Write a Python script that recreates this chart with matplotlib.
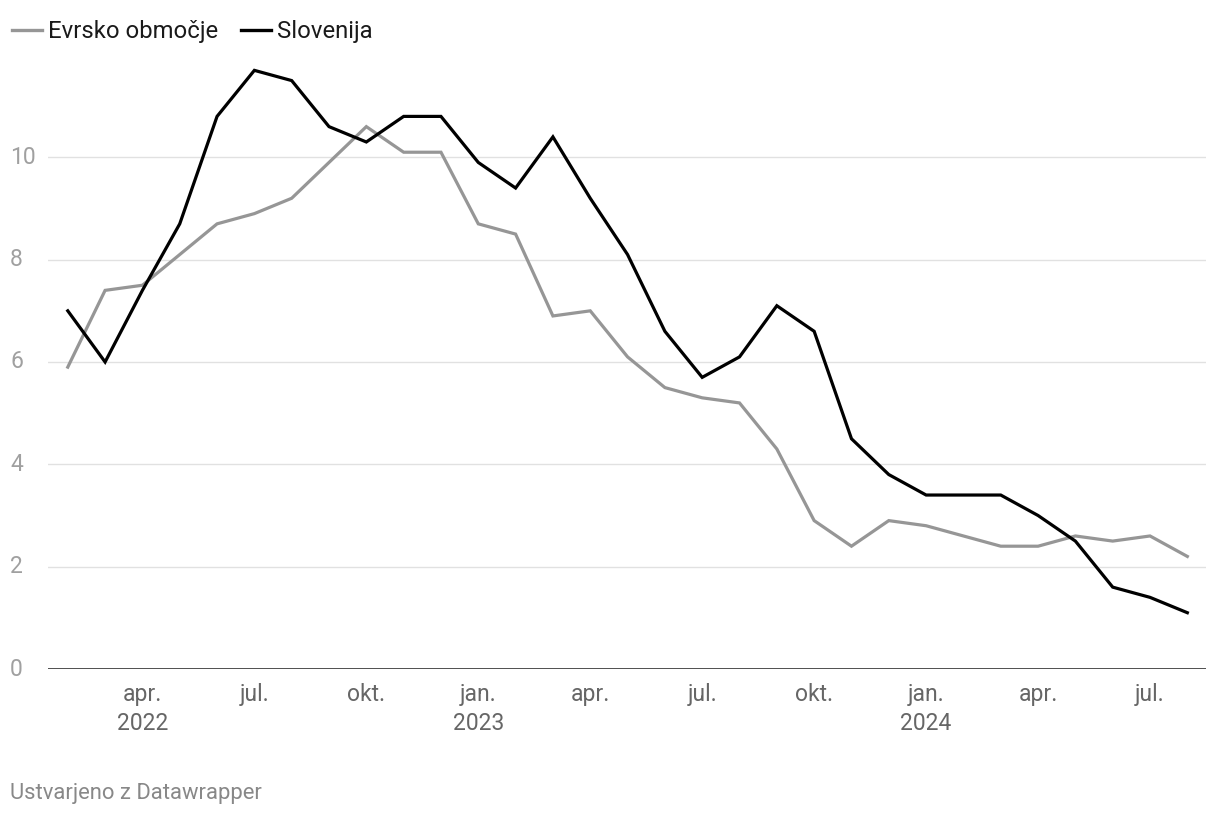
import matplotlib.pyplot as plt

plt.rcParams['font.family'] = ['Roboto', 'DejaVu Sans']

# monthly inflation, Feb 2022 - Aug 2024
months = list(range(31))
evrsko = [5.9, 7.4, 7.5, 8.1, 8.7, 8.9, 9.2, 9.9, 10.6, 10.1, 10.1,
          8.7, 8.5, 6.9, 7.0, 6.1, 5.5, 5.3, 5.2, 4.3, 2.9, 2.4, 2.9,
          2.8, 2.6, 2.4, 2.4, 2.6, 2.5, 2.6, 2.2]
slovenija = [7.0, 6.0, 7.4, 8.7, 10.8, 11.7, 11.5, 10.6, 10.3, 10.8, 10.8,
             9.9, 9.4, 10.4, 9.2, 8.1, 6.6, 5.7, 6.1, 7.1, 6.6, 4.5, 3.8,
             3.4, 3.4, 3.4, 3.0, 2.5, 1.6, 1.4, 1.1]

tick_pos = [2, 5, 8, 11, 14, 17, 20, 23, 26, 29]
tick_labels = ['apr.\n2022', 'jul.', 'okt.', 'jan.\n2023', 'apr.', 'jul.',
               'okt.', 'jan.\n2024', 'apr.', 'jul.']
y_ticks = [0, 2, 4, 6, 8, 10]

fig = plt.figure(figsize=(12.2, 8.16), dpi=100)
ax = fig.add_axes([48 / 1220, 147 / 816, (1206 - 48) / 1220, (669 - 55) / 816])

ax.plot(months, evrsko, color='#969696', lw=2.3, label='Evrsko območje',
        solid_joinstyle='miter', zorder=3)
ax.plot(months, slovenija, color='#000000', lw=2.3, label='Slovenija',
        solid_joinstyle='miter', zorder=4)

ax.set_xlim(-0.53, 30.5)
ax.set_ylim(0, 12)

for y in y_ticks[1:]:
    ax.axhline(y, color='#e1e1e1', lw=1.0, zorder=1)
ax.axhline(0, color='#1a1a1a', lw=1.8, zorder=5)

for s in ax.spines.values():
    s.set_visible(False)

ax.set_yticks(y_ticks)
ax.set_yticklabels([str(v) for v in y_ticks])
ax.tick_params(axis='y', length=0, labelsize=16.5, labelcolor='#a0a0a0', pad=0)
for lab in ax.get_yticklabels():
    lab.set_horizontalalignment('left')
    lab.set_x(-38 / 1158)
    lab.set_verticalalignment('center')

ax.set_xticks(tick_pos)
ax.set_xticklabels(tick_labels, linespacing=1.35)
ax.tick_params(axis='x', length=0, labelsize=16.5, labelcolor='#666666', pad=10)

leg = fig.legend(loc='upper left', bbox_to_anchor=(0.0, 0.99), ncol=2,
                 frameon=False, fontsize=17.2, handlelength=1.26,
                 handletextpad=0.25, columnspacing=0.95, borderaxespad=0.1)
for t in leg.get_texts():
    t.set_color('#1a1a1a')
for h in leg.get_lines():
    h.set_linewidth(2.4)

fig.text(10 / 1220, 1 - 793 / 816, 'Ustvarjeno z Datawrapper', fontsize=15.8,
         color='#888888', ha='left', va='center')

fig.savefig('out.png', dpi=100)
